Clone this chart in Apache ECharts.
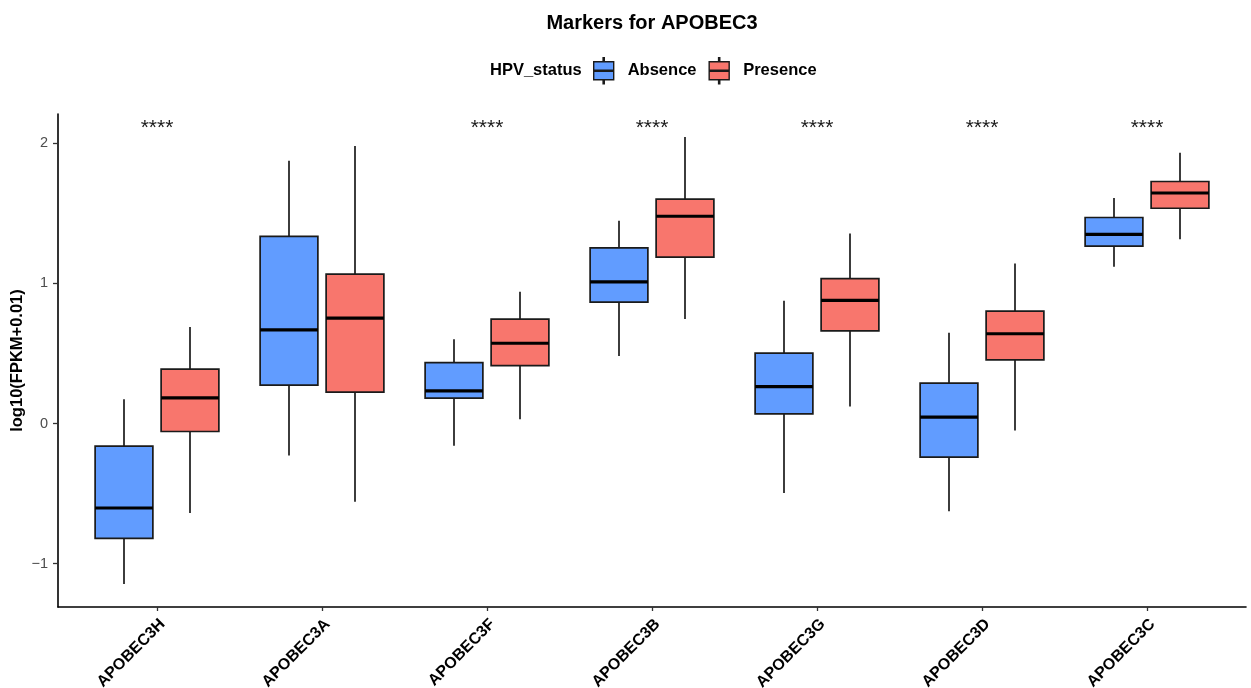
<!DOCTYPE html>
<html>
<head>
<meta charset="utf-8">
<script src="https://cdn.jsdelivr.net/npm/echarts@6/dist/echarts.min.js"></script>
<style>html,body{margin:0;padding:0;background:#fff;}#c{width:1251px;height:688px;}</style>
</head>
<body>
<div id="c"></div>
<script>
const categories = ['APOBEC3H','APOBEC3A','APOBEC3F','APOBEC3B','APOBEC3G','APOBEC3D','APOBEC3C'];
// [lower whisker, Q1, median, Q3, upper whisker]
const absence = [
  [-1.145, -0.820, -0.603, -0.161, 0.174],
  [-0.228, 0.274, 0.668, 1.336, 1.877],
  [-0.159, 0.181, 0.233, 0.435, 0.601],
  [0.483, 0.867, 1.012, 1.254, 1.447],
  [-0.496, 0.069, 0.264, 0.502, 0.877],
  [-0.627, -0.240, 0.045, 0.288, 0.649],
  [1.119, 1.267, 1.350, 1.471, 1.611]
];
const presence = [
  [-0.639, -0.057, 0.183, 0.388, 0.689],
  [-0.558, 0.224, 0.753, 1.067, 1.982],
  [0.031, 0.413, 0.573, 0.746, 0.941],
  [0.746, 1.188, 1.480, 1.602, 2.046],
  [0.121, 0.661, 0.879, 1.034, 1.357],
  [-0.050, 0.454, 0.641, 0.803, 1.143],
  [1.316, 1.537, 1.646, 1.728, 1.934]
];
const sigLabels = ['****', '', '****', '****', '****', '****', '****'];
const yTicks = [-1, 0, 1, 2];

const SIG_Y = 2.11;
const DODGE = 0.2;
const BOX_W = 0.35;
const FONT = 'Liberation Sans, Arial, sans-serif';

function boxRender(offset, color) {
  return function (params, api) {
    const x = api.value(0) + offset;
    const pMin = api.coord([x, api.value(1)]);
    const pQ1 = api.coord([x, api.value(2)]);
    const pMed = api.coord([x, api.value(3)]);
    const pQ3 = api.coord([x, api.value(4)]);
    const pMax = api.coord([x, api.value(5)]);
    const w = api.size([BOX_W, 0])[0];
    const cx = pMed[0];
    const lineStyle = { stroke: '#1a1a1a', lineWidth: 1.7 };
    return {
      type: 'group',
      children: [
        { type: 'line', shape: { x1: cx, y1: pMax[1], x2: cx, y2: pQ3[1] }, style: lineStyle },
        { type: 'line', shape: { x1: cx, y1: pQ1[1], x2: cx, y2: pMin[1] }, style: lineStyle },
        { type: 'rect', shape: { x: cx - w / 2, y: pQ3[1], width: w, height: pQ1[1] - pQ3[1] },
          style: { fill: color, stroke: '#1a1a1a', lineWidth: 1.7 } },
        { type: 'line', shape: { x1: cx - w / 2, y1: pMed[1], x2: cx + w / 2, y2: pMed[1] },
          style: { stroke: '#000', lineWidth: 3.2 } }
      ]
    };
  };
}

function toData(arr) {
  return arr.map((v, i) => [i + 1].concat(v));
}

const legendIcon = 'path://M9.4,0 H10.6 V4 H9.4 Z M0,4 H20 V22 H0 Z M0,12.4 H20 V13.6 H0 Z M9.4,22 H10.6 V26 H9.4 Z';

const chart = echarts.init(document.getElementById('c'), null, { renderer: 'canvas' });
chart.setOption({
  backgroundColor: '#ffffff',
  animation: false,
  title: [
    { text: 'Markers for APOBEC3', left: 652, textAlign: 'center', top: 11, padding: 0,
      textStyle: { fontFamily: FONT, fontSize: 20, fontWeight: 'bold', color: '#000', lineHeight: 24 } },
    { text: 'HPV_status', left: 490, top: 60, padding: 0,
      textStyle: { fontFamily: FONT, fontSize: 16.5, fontWeight: 'bold', color: '#000', lineHeight: 20 } }
  ],
  legend: {
    left: 593, top: 57, padding: 0,
    itemWidth: 20, itemHeight: 26, itemGap: 12,
    icon: legendIcon,
    textStyle: { fontFamily: FONT, fontSize: 16.5, fontWeight: 'bold', color: '#000', padding: [0, 0, 0, 9] },
    data: [
      { name: 'Absence', itemStyle: { color: '#619CFF', borderColor: '#1a1a1a', borderWidth: 1.4 } },
      { name: 'Presence', itemStyle: { color: '#F8766D', borderColor: '#1a1a1a', borderWidth: 1.4 } }
    ]
  },
  grid: { left: 58, right: 5, top: 114, bottom: 81, containLabel: false, outerBoundsMode: 'none' },
  xAxis: {
    type: 'value', min: 0.4, max: 7.6,
    splitLine: { show: false },
    axisLine: { show: true, onZero: false, lineStyle: { color: '#000', width: 1.6 } },
    axisTick: { show: true, length: 4, customValues: categories.map((c, i) => i + 1), lineStyle: { color: '#333', width: 1.3 } },
    axisLabel: {
      customValues: categories.map((c, i) => i + 1),
      formatter: v => categories[Math.round(v) - 1] || '',
      rotate: 45, margin: 9, verticalAlign: 'top',
      fontFamily: FONT, fontSize: 16, fontWeight: 'bold', color: '#000'
    }
  },
  yAxis: {
    type: 'value', min: -1.31, max: 2.21,
    name: 'log10(FPKM+0.01)', nameLocation: 'middle', nameGap: 32, nameMoveOverlap: false,
    nameTextStyle: { fontFamily: FONT, fontSize: 16.5, fontWeight: 'bold', color: '#000' },
    splitLine: { show: false },
    axisLine: { show: true, onZero: false, lineStyle: { color: '#000', width: 1.6 } },
    axisTick: { show: true, length: 5, customValues: yTicks, lineStyle: { color: '#333', width: 1.3 } },
    axisLabel: { customValues: yTicks, margin: 10, fontFamily: FONT, fontSize: 14.5, color: '#4D4D4D',
      formatter: v => (v < 0 ? '\u2212' + Math.abs(v) : String(v)) }
  },
  series: [
    {
      name: 'Absence', type: 'custom', itemStyle: { color: '#619CFF' },
      renderItem: boxRender(-DODGE, '#619CFF'),
      encode: { x: 0, y: [1, 2, 3, 4, 5] },
      data: toData(absence)
    },
    {
      name: 'Presence', type: 'custom', itemStyle: { color: '#F8766D' },
      renderItem: boxRender(DODGE, '#F8766D'),
      encode: { x: 0, y: [1, 2, 3, 4, 5] },
      data: toData(presence)
    },
    {
      name: 'sig', type: 'custom', silent: true,
      renderItem: function (params, api) {
        const p = api.coord([api.value(0), SIG_Y]);
        return { type: 'text', x: p[0], y: p[1],
          style: { text: sigLabels[params.dataIndex], align: 'center', verticalAlign: 'middle',
            fontFamily: FONT, fontSize: 21, fill: '#1a1a1a' } };
      },
      data: categories.map((c, i) => [i + 1])
    }
  ]
});
</script>
</body>
</html>
